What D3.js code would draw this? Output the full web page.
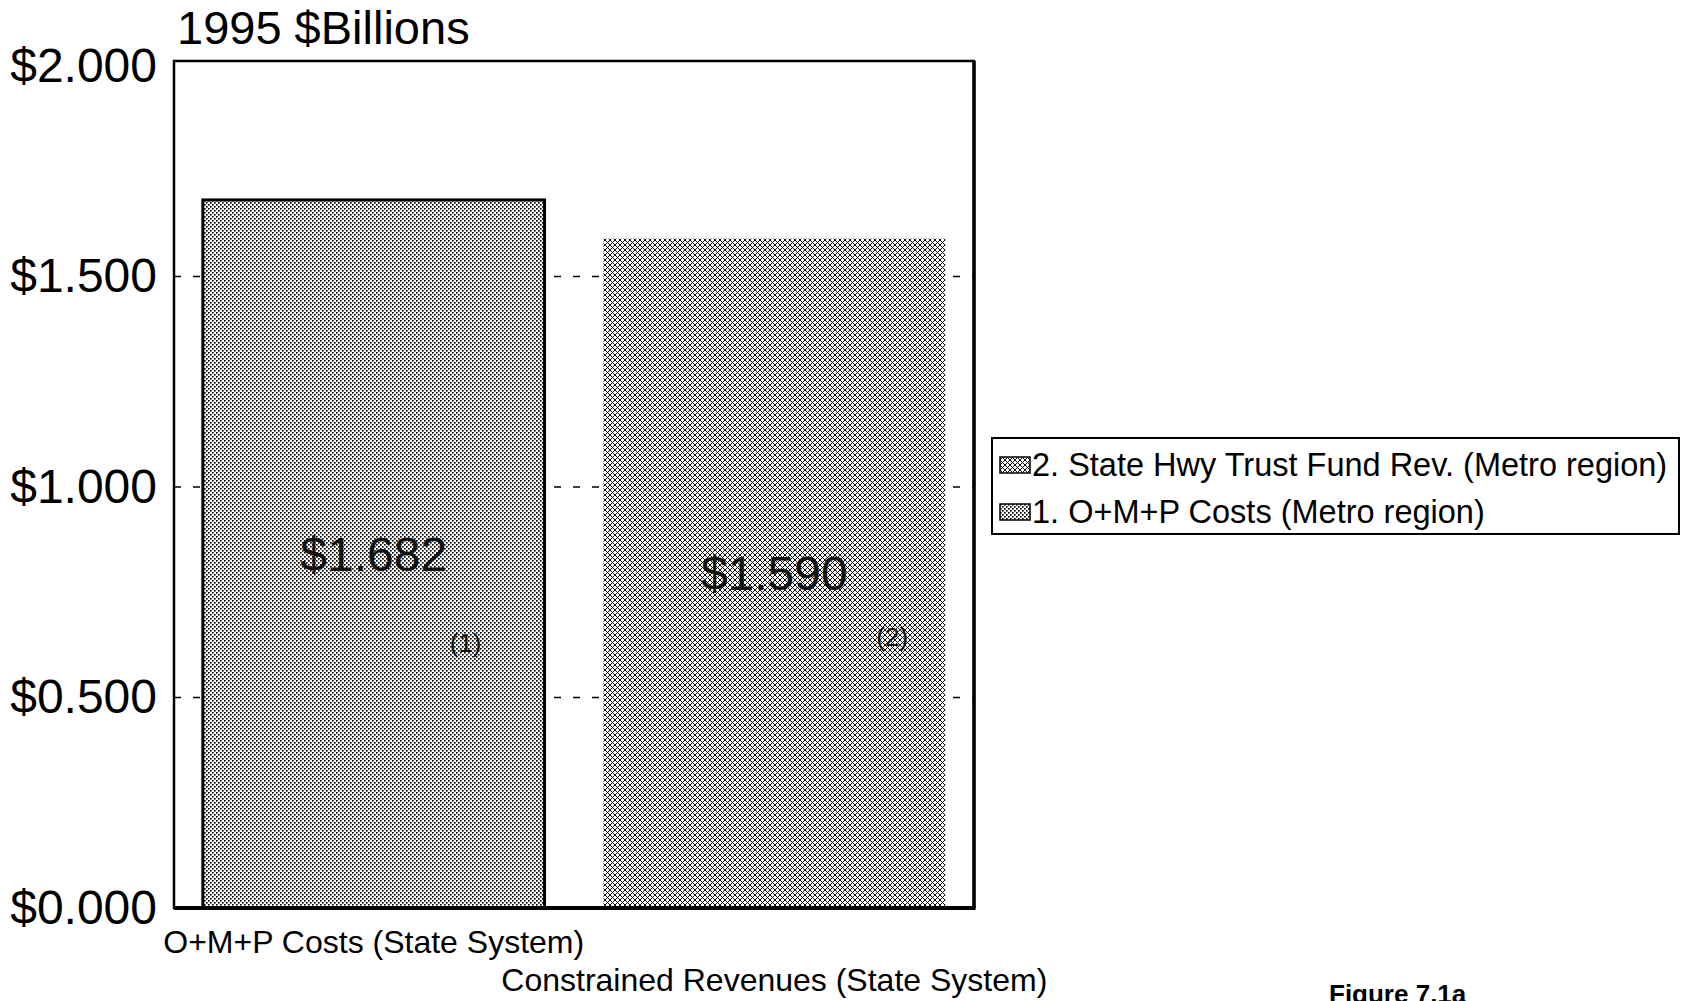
<!DOCTYPE html>
<html>
<head>
<meta charset="utf-8">
<script src="https://cdn.jsdelivr.net/npm/d3@7/dist/d3.min.js"></script>
<style>
  html, body { margin: 0; padding: 0; background: #fff; }
  svg { display: block; font-family: "Liberation Sans", Arial, Helvetica, sans-serif; }
</style>
</head>
<body>
<svg id="chart" width="1681" height="1001"></svg>
<script>
// ---- data ----
const categories = ["O+M+P Costs (State System)", "Constrained Revenues (State System)"];
const values = [1.682, 1.590];
const valueLabels = ["$1.682", "$1.590"];
const noteLabels = ["(1)", "(2)"];
const seriesNames = ["1. O+M+P Costs (Metro region)", "2. State Hwy Trust Fund Rev. (Metro region)"];
const yTicks = [0, 0.5, 1.0, 1.5, 2.0];
const gridValues = [0.5, 1.0, 1.5];
const titleText = "1995 $Billions";
const figureText = "Figure 7.1a";

// ---- layout ----
const svg = d3.select("#chart");
const plot = { left: 174, top: 61, right: 974, bottom: 908 };

const defs = svg.append("defs");
// darker dotted checker pattern (series 1)
const p1 = defs.append("pattern").attr("id", "pat1").attr("patternUnits", "userSpaceOnUse")
  .attr("width", 4).attr("height", 4);
p1.append("rect").attr("width", 4).attr("height", 4).attr("fill", "#fff");
p1.append("rect").attr("x", 0).attr("y", 0).attr("width", 1.65).attr("height", 1.65).attr("fill", "#000");
p1.append("rect").attr("x", 2).attr("y", 2).attr("width", 1.65).attr("height", 1.65).attr("fill", "#000");
// lighter diagonal mesh pattern (series 2)
const p2 = defs.append("pattern").attr("id", "pat2").attr("patternUnits", "userSpaceOnUse")
  .attr("width", 5).attr("height", 5);
p2.append("rect").attr("width", 5).attr("height", 5).attr("fill", "#fff");
p2.append("path").attr("d", "M-1,-1 L6,6 M6,-1 L-1,6")
  .attr("stroke", "#000").attr("stroke-width", 0.95).attr("fill", "none");
const patterns = ["url(#pat1)", "url(#pat2)"];

const x = d3.scaleBand().domain(categories)
  .range([plot.left, plot.right]).paddingInner(0.147).paddingOuter(0.072);
const y = d3.scaleLinear().domain([0, 2.012]).range([plot.bottom, plot.top]);

// gridlines (dashed, behind bars)
svg.append("g").selectAll("line").data(gridValues).join("line")
  .attr("x1", plot.left).attr("x2", plot.right)
  .attr("y1", d => y(d)).attr("y2", d => y(d))
  .attr("stroke", "#000").attr("stroke-width", 1.6).attr("stroke-dasharray", "7,12");

// bars
svg.append("g").selectAll("rect").data(values).join("rect")
  .attr("x", (d, i) => x(categories[i]))
  .attr("y", d => y(d))
  .attr("width", x.bandwidth())
  .attr("height", d => y(0) - y(d))
  .attr("fill", (d, i) => patterns[i])
  .attr("stroke", (d, i) => i === 0 ? "#000" : "none")
  .attr("stroke-width", 3);

// value labels at bar centers
svg.append("g").selectAll("text").data(values).join("text")
  .attr("x", (d, i) => x(categories[i]) + x.bandwidth() / 2)
  .attr("y", d => (y(d) + y(0)) / 2 + 17)
  .attr("text-anchor", "middle")
  .attr("font-size", 48)
  .attr("fill", "#111")
  .text((d, i) => valueLabels[i]);

// footnote markers
const noteFx = [0.769, 0.845];
const noteFy = [0.638, 0.608];
svg.append("g").selectAll("text").data(values).join("text")
  .attr("x", (d, i) => x(categories[i]) + x.bandwidth() * noteFx[i])
  .attr("y", (d, i) => y(d) + (y(0) - y(d)) * noteFy[i])
  .attr("text-anchor", "middle")
  .attr("font-size", 26)
  .attr("fill", "#111")
  .text((d, i) => noteLabels[i]);

// frame
svg.append("rect")
  .attr("x", plot.left).attr("y", plot.top)
  .attr("width", plot.right - plot.left).attr("height", plot.bottom - plot.top)
  .attr("fill", "none").attr("stroke", "#000").attr("stroke-width", 2.5);
svg.append("line").attr("x1", plot.left).attr("x2", plot.right + 1.5)
  .attr("y1", plot.bottom).attr("y2", plot.bottom)
  .attr("stroke", "#000").attr("stroke-width", 4);
svg.append("line").attr("x1", plot.right).attr("x2", plot.right)
  .attr("y1", plot.top).attr("y2", plot.bottom)
  .attr("stroke", "#000").attr("stroke-width", 3.5);

// y axis
const yAxis = d3.axisLeft(y).tickValues(yTicks).tickSize(0).tickPadding(17)
  .tickFormat(d => "$" + d.toFixed(3));
const gy = svg.append("g").attr("transform", `translate(${plot.left},0)`).call(yAxis);
gy.select(".domain").remove();
gy.selectAll("text").attr("font-size", 48).attr("fill", "#000")
  .attr("font-family", "Liberation Sans, Arial, sans-serif");

// x axis (staggered labels)
const xAxis = d3.axisBottom(x).tickSize(0);
const gx = svg.append("g").attr("transform", `translate(0,${plot.bottom})`).call(xAxis);
gx.select(".domain").remove();
gx.selectAll("text")
  .attr("font-size", 32).attr("fill", "#000")
  .attr("font-family", "Liberation Sans, Arial, sans-serif")
  .attr("dy", 0)
  .attr("y", (d, i) => i === 0 ? 45 : 83);

// title
svg.append("text").attr("x", 177).attr("y", 44)
  .attr("font-size", 47).attr("fill", "#000").text(titleText);

// legend (reverse order)
const legend = svg.append("g");
legend.append("rect").attr("x", 992).attr("y", 438).attr("width", 687).attr("height", 96)
  .attr("fill", "#fff").attr("stroke", "#000").attr("stroke-width", 2);
const legendItems = seriesNames.map((n, i) => ({ name: n, pat: patterns[i] })).reverse();
const rowY = [465, 512];
const li = legend.selectAll("g.item").data(legendItems).join("g").attr("class", "item")
  .attr("transform", (d, i) => `translate(1000,${rowY[i]})`);
li.append("rect").attr("x", 0).attr("y", -8).attr("width", 30).attr("height", 16)
  .attr("fill", d => d.pat).attr("stroke", "#000").attr("stroke-width", 1.5);
li.append("text").attr("x", 32).attr("y", 11).attr("font-size", 32.5).attr("fill", "#000")
  .text(d => d.name);

// figure caption
svg.append("text").attr("x", 1329).attr("y", 1003)
  .attr("font-size", 26).attr("font-weight", "bold").attr("fill", "#000").text(figureText);
</script>
</body>
</html>
